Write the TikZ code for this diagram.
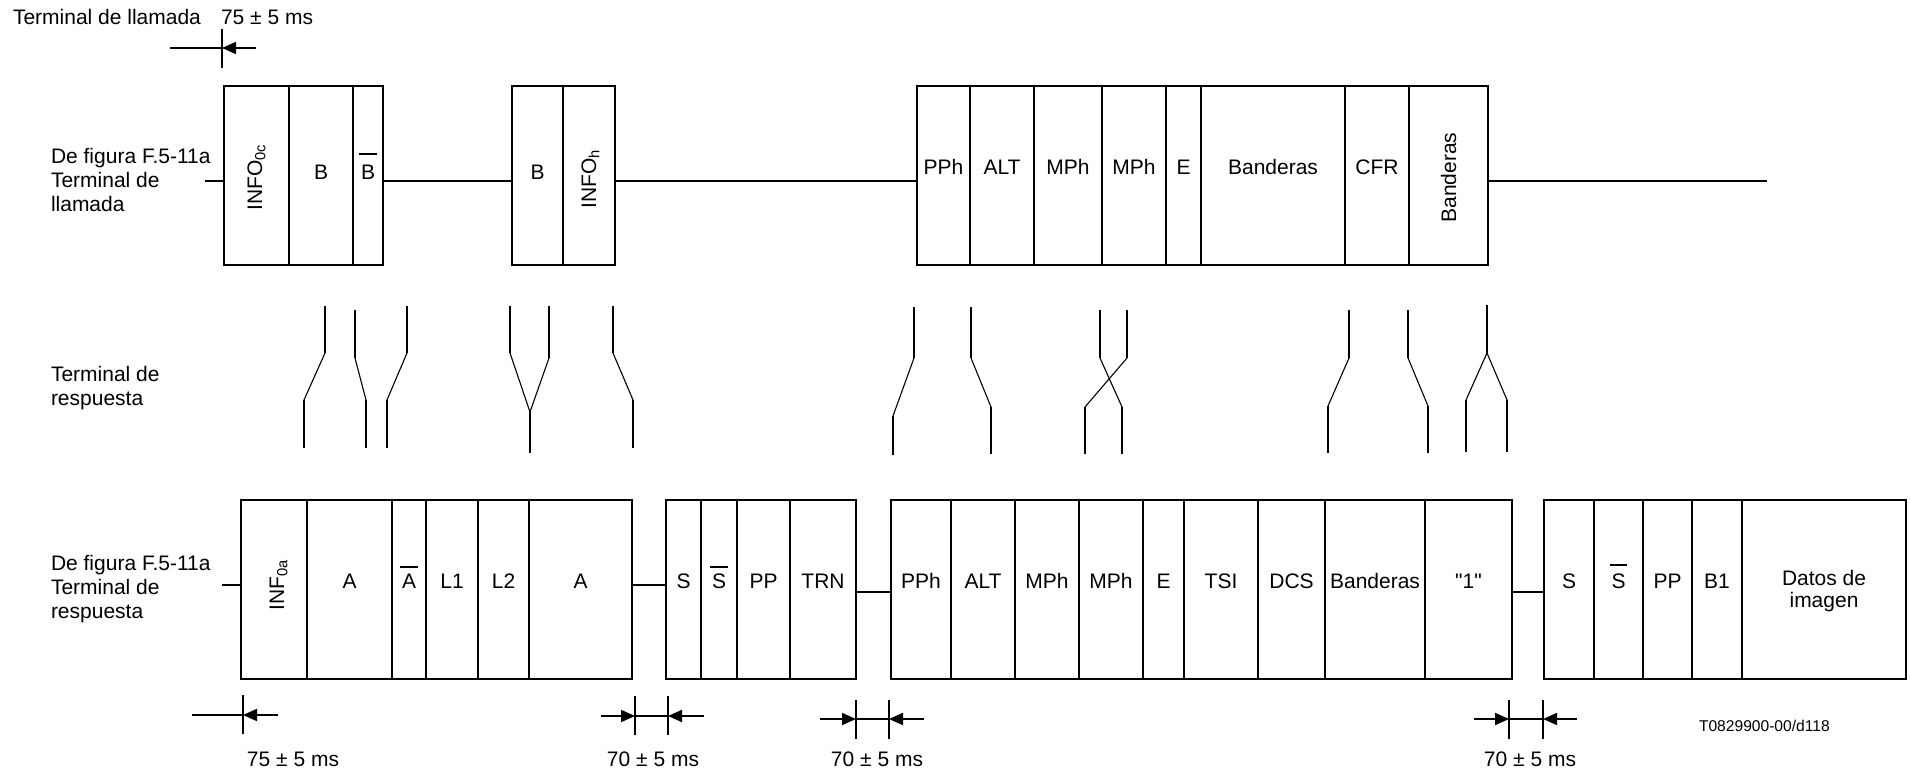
\documentclass[tikz,border=0pt]{standalone}
\usepackage{fontspec}
\setmainfont{Liberation Sans}[Ligatures=TeXOff]
\usetikzlibrary{arrows.meta}
\newsavebox\ovlbox
\newcommand\ovl[2][3pt]{\sbox\ovlbox{#2}\leavevmode\rlap{\kern-0.8pt\raisebox{\dimexpr0.69em+#1\relax}{\rule{\dimexpr\wd\ovlbox+1.6pt\relax}{0.75pt}}}\usebox\ovlbox}
\newcommand\tcell[3]{\node[cellbox, minimum width={(#3-#2)*0.5pt}, minimum height={179*0.5pt}] (#1) at ({(#2+#3)/2},175.5) {};}
\newcommand\bcell[3]{\node[cellbox, minimum width={(#3-#2)*0.5pt}, minimum height={179*0.5pt}] (#1) at ({(#2+#3)/2},589.5) {};}
\begin{document}
\begin{tikzpicture}[x=0.5pt, y={(0pt,-0.5pt)},
  every node/.style={font=\fontsize{10.5}{12}\selectfont, inner sep=0pt, outer sep=0pt},
  cellbox/.style={draw, line width=0.7pt, rectangle},
  lbl/.style={anchor=base},
  link/.style={line width=1pt},
  vseg/.style={line width=1.1pt},
  dseg/.style={line width=0.55pt},
  tick/.style={line width=0.9pt},
  harrow/.style={line width=0.9pt, -{Triangle[length=7pt,width=6pt]}}]
\useasboundingbox (0,0) rectangle (1910,774);

% ---------- top-left texts and timing ----------
\node[anchor=base west] (tl) at (13,25) {Terminal de llamada};
\node[anchor=base west] (tt) at (221,25) {75 ± 5 ms};
\coordinate (ta0) at (170,48);
\coordinate (ta1) at (222,48);
\coordinate (ta2) at (256,48);
\draw[tick] (222,29) -- (222,68);
\draw[tick] (ta0) -- (ta1);
\draw[harrow] (ta2) -- (ta1);

\node[anchor=west, align=left] (lab1) at (51,179.6) {De figura F.5-11a\\Terminal de\\llamada};
\node[anchor=west, align=left] (lab2) at (51,388) {Terminal de\\respuesta};
\node[anchor=west, align=left] (lab3) at (51,589) {De figura F.5-11a\\Terminal de\\respuesta};

% ---------- top row ----------
\tcell{t1a}{224}{289}\tcell{t1b}{289}{353}\tcell{t1c}{353}{383}
\tcell{t2a}{512}{563}\tcell{t2b}{563}{615}
\tcell{t3a}{917}{970}\tcell{t3b}{970}{1034}\tcell{t3c}{1034}{1102}\tcell{t3d}{1102}{1166}
\tcell{t3e}{1166}{1201}\tcell{t3f}{1201}{1345}\tcell{t3g}{1345}{1409}\tcell{t3h}{1409}{1488}

\node[lbl, rotate=90] (t1a-l) at (262,177) {INFO\textsubscript{0c}};
\node[lbl] (t1b-l) at (t1b.center |- 0,180) {B};
\node[lbl] (t1c-l) at (t1c.center |- 0,180) {\ovl[5.5pt]{B}};
\node[lbl] (t2a-l) at (t2a.center |- 0,180) {B};
\node[lbl, rotate=90] (t2b-l) at (596,178.5) {INFO\textsubscript{h}};
\node[lbl] (t3a-l) at (t3a.center |- 0,175) {PPh};
\node[lbl] (t3b-l) at (t3b.center |- 0,175) {ALT};
\node[lbl] (t3c-l) at (t3c.center |- 0,175) {MPh};
\node[lbl] (t3d-l) at (t3d.center |- 0,175) {MPh};
\node[lbl] (t3e-l) at (t3e.center |- 0,175) {E};
\node[lbl] (t3f-l) at (t3f.center |- 0,175) {Banderas};
\node[lbl] (t3g-l) at (t3g.center |- 0,175) {CFR};
\node[lbl, rotate=90] (t3h-l) at (1456,177.5) {Banderas};

\coordinate (tin) at (205,181);
\coordinate (tout) at (1767,181);
\draw[link] (tin) -- (tin -| t1a.west);
\draw[link] (t1c.east |- tin) -- (t2a.west |- tin);
\draw[link] (t2b.east |- tin) -- (t3a.west |- tin);
\draw[link] (t3h.east |- tin) -- (tout);

% ---------- middle crossings ----------
\newcommand\xg[6]{\draw[vseg] (#1,#2) -- (#1,#3); \draw[dseg] (#1,#3) -- (#4,#5); \draw[vseg] (#4,#5) -- (#4,#6);}
\xg{325}{306}{353}{304}{400}{448}
\xg{355}{310}{358}{366}{400}{448}
\xg{407}{306}{353}{387}{400}{448}
\xg{510}{306}{353}{530}{412}{453}
\draw[vseg] (549,306) -- (549,358); \draw[dseg] (549,358) -- (530,412);
\xg{613}{306}{353}{633}{400}{448}
\xg{914}{307}{358}{893}{416}{455}
\xg{971}{307}{358}{991}{407}{454}
\xg{1100}{310}{358}{1122}{407}{454}
\xg{1127}{310}{358}{1085}{407}{454}
\xg{1349}{310}{358}{1328}{406}{453}
\xg{1408}{310}{358}{1428}{406}{453}
\xg{1487}{305}{353}{1466}{400}{452}
\draw[dseg] (1487,353) -- (1507,400); \draw[vseg] (1507,400) -- (1507,452);

% ---------- bottom row ----------
\bcell{b1a}{241}{307}\bcell{b1b}{307}{392}\bcell{b1c}{392}{426}\bcell{b1d}{426}{478}\bcell{b1e}{478}{529}\bcell{b1f}{529}{632}
\bcell{b2a}{666}{701}\bcell{b2b}{701}{737}\bcell{b2c}{737}{790}\bcell{b2d}{790}{856}
\bcell{b3a}{891}{951}\bcell{b3b}{951}{1015}\bcell{b3c}{1015}{1079}\bcell{b3d}{1079}{1143}\bcell{b3e}{1143}{1184}
\bcell{b3f}{1184}{1258}\bcell{b3g}{1258}{1325}\bcell{b3h}{1325}{1425}\bcell{b3i}{1425}{1512}
\bcell{b4a}{1544}{1594}\bcell{b4b}{1594}{1643}\bcell{b4c}{1643}{1692}\bcell{b4d}{1692}{1742}\bcell{b4e}{1742}{1906}

\node[lbl, rotate=90] (b1a-l) at (284,584.5) {INF\textsubscript{0a}};
\node[lbl] (b1b-l) at (b1b.center |- 0,588) {A};
\node[lbl] (b1c-l) at (b1c.center |- 0,588) {\ovl{A}};
\node[lbl] (b1d-l) at (b1d.center |- 0,588) {L1};
\node[lbl] (b1e-l) at (b1e.center |- 0,588) {L2};
\node[lbl] (b1f-l) at (b1f.center |- 0,588) {A};
\node[lbl] (b2a-l) at (b2a.center |- 0,588) {S};
\node[lbl] (b2b-l) at (b2b.center |- 0,588) {\ovl{S}};
\node[lbl] (b2c-l) at (b2c.center |- 0,588) {PP};
\node[lbl] (b2d-l) at (b2d.center |- 0,588) {TRN};
\node[lbl] (b3a-l) at (b3a.center |- 0,588) {PPh};
\node[lbl] (b3b-l) at (b3b.center |- 0,588) {ALT};
\node[lbl] (b3c-l) at (b3c.center |- 0,588) {MPh};
\node[lbl] (b3d-l) at (b3d.center |- 0,588) {MPh};
\node[lbl] (b3e-l) at (b3e.center |- 0,588) {E};
\node[lbl] (b3f-l) at (b3f.center |- 0,588) {TSI};
\node[lbl] (b3g-l) at (b3g.center |- 0,588) {DCS};
\node[lbl] (b3h-l) at (b3h.center |- 0,588) {Banderas};
\node[lbl] (b3i-l) at (b3i.center |- 0,588) {"1"};
\node[lbl] (b4a-l) at (b4a.center |- 0,588) {S};
\node[lbl] (b4b-l) at (b4b.center |- 0,588) {\ovl[4pt]{S}};
\node[lbl] (b4c-l) at (b4c.center |- 0,588) {PP};
\node[lbl] (b4d-l) at (b4d.center |- 0,588) {B1};
\node[align=center, font=\fontsize{10.5}{11}\selectfont] (b4e-l) at (b4e.center |- 0,591) {Datos de\\imagen};

\coordinate (bin) at (222,585);
\coordinate (bl1) at (0,585);
\coordinate (bl2) at (0,592);
\draw[link] (bin) -- (bin -| b1a.west);
\draw[link] (b1f.east |- bl1) -- (b2a.west |- bl1);
\draw[link] (b2d.east |- bl2) -- (b3a.west |- bl2);
\draw[link] (b3i.east |- bl2) -- (b4a.west |- bl2);

% ---------- bottom timing ----------
\draw[tick] (243,695) -- (243,734);
\coordinate (m0a) at (192,715); \coordinate (m0b) at (243,715); \coordinate (m0c) at (278,715);
\draw[tick] (m0a) -- (m0b); \draw[harrow] (m0c) -- (m0b);

\draw[tick] (635,696) -- (635,735); \draw[tick] (668,696) -- (668,735);
\coordinate (m1a) at (601,716); \coordinate (m1b) at (635,716); \coordinate (m1c) at (668,716); \coordinate (m1d) at (704,716);
\draw[harrow] (m1a) -- (m1b); \draw[tick] (m1b) -- (m1c); \draw[harrow] (m1d) -- (m1c);

\draw[tick] (856,700) -- (856,739); \draw[tick] (889,700) -- (889,739);
\coordinate (m2a) at (820,719); \coordinate (m2b) at (856,719); \coordinate (m2c) at (889,719); \coordinate (m2d) at (924,719);
\draw[harrow] (m2a) -- (m2b); \draw[tick] (m2b) -- (m2c); \draw[harrow] (m2d) -- (m2c);

\draw[tick] (1509,700) -- (1509,739); \draw[tick] (1543,700) -- (1543,739);
\coordinate (m3a) at (1474,719); \coordinate (m3b) at (1509,719); \coordinate (m3c) at (1543,719); \coordinate (m3d) at (1577,719);
\draw[harrow] (m3a) -- (m3b); \draw[tick] (m3b) -- (m3c); \draw[harrow] (m3d) -- (m3c);

\node[lbl] (d0) at (293,766) {75 ± 5 ms};
\node[lbl] (d1) at (653,766) {70 ± 5 ms};
\node[lbl] (d2) at (877,766) {70 ± 5 ms};
\node[lbl] (d3) at (1530,766) {70 ± 5 ms};
\node[anchor=base west, font=\fontsize{7.8}{9}\selectfont] (ref) at (1699,731) {T0829900-00/d118};
\end{tikzpicture}
\end{document}
